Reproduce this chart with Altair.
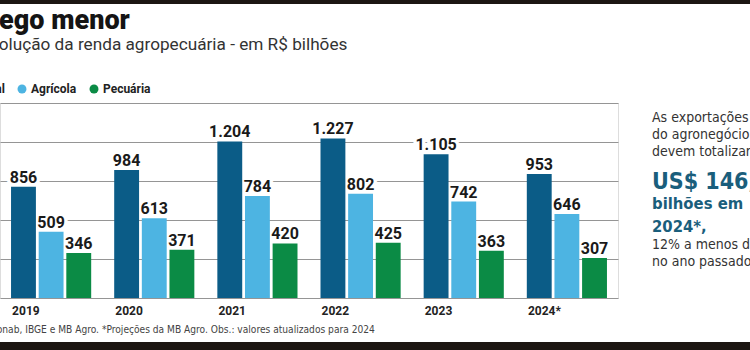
import altair as alt
import pandas as pd

anos = ["2019", "2020", "2021", "2022", "2023", "2024*"]
series = ["Total", "Agrícola", "Pecuária"]
total = [856, 984, 1204, 1227, 1105, 953]
agricola = [509, 613, 784, 802, 742, 646]
pecuaria = [346, 371, 420, 425, 363, 307]
cores = ["#0b5c87", "#4db4e2", "#0b8b45"]

titulo = "Fôlego menor"
subtitulo = "Evolução da renda agropecuária - em R$ bilhões"
fonte = "Fonte: Conab, IBGE e MB Agro. *Projeções da MB Agro. Obs.: valores atualizados para 2024"
lado = [
    "As exportações",
    "do agronegócio",
    "devem totalizar",
    "US$ 146,8",
    "bilhões em",
    "2024*,",
    "12% a menos do que",
    "no ano passado",
]

COND = "DejaVu Sans Condensed, Roboto, sans-serif"

rows = []
for s, vals in zip(series, [total, agricola, pecuaria]):
    for a, v in zip(anos, vals):
        rows.append({"ano": a, "serie": s, "valor": v,
                     "rotulo": f"{v:,}".replace(",", ".")})
df = pd.DataFrame(rows)

X = alt.X("ano:N", sort=anos, title=None,
          scale=alt.Scale(paddingInner=0.223, paddingOuter=0.107),
          axis=alt.Axis(labelAlign="left", labelAngle=0, labelOffset=-39,
                        labelFont="Roboto", labelFontWeight="bold", labelFontSize=12,
                        labelColor="#222", labelPadding=7, domain=False, ticks=False,
                        grid=False))
XO = alt.XOffset("serie:N", sort=series, scale=alt.Scale(paddingInner=0.1))
Y = alt.Y("valor:Q", title=None,
          scale=alt.Scale(domain=[0, 1500], nice=False),
          axis=alt.Axis(values=[0, 300, 600, 900, 1200, 1500], labels=False,
                        ticks=False, domain=False, grid=True, gridColor="#959595",
                        gridWidth=1))

base = alt.Chart(df)

halo = base.mark_text(baseline="alphabetic", dy=-4, font="Roboto", fontWeight="bold",
                      fontSize=16, color="white", stroke="white", strokeWidth=7,
                      strokeJoin="round").encode(x=X, xOffset=XO, y=Y, text="rotulo:N")

bars = base.mark_bar().encode(
    x=X, xOffset=XO, y=Y,
    color=alt.Color("serie:N", sort=series,
                    scale=alt.Scale(domain=series, range=cores),
                    legend=alt.Legend(orient="none", legendX=-37, legendY=-20,
                                      direction="horizontal", title=None,
                                      symbolType="circle", symbolSize=80,
                                      symbolStrokeWidth=0, labelFont="Roboto",
                                      labelFontWeight="bold", labelFontSize=12,
                                      labelColor="#222", columnPadding=11,
                                      labelOffset=3, padding=0)),
)

labels = base.mark_text(baseline="alphabetic", dy=-4, font="Roboto", fontWeight="bold",
                        fontSize=16, color="#1a1a1a").encode(
    x=X, xOffset=XO, y=Y, text="rotulo:N")


def txt(t, x, y, **kw):
    return alt.Chart(pd.DataFrame({"t": [t]})).mark_text(
        align="left", baseline="alphabetic", **kw).encode(
        text="t:N", x=alt.value(x), y=alt.value(y))


top0 = 103
ann = [
    txt(titulo, -38, 29 - top0, font="Roboto", fontWeight=900, fontSize=27, color="#141414"),
    txt(subtitulo, -19, 50 - top0, font="Roboto", fontSize=17.2, color="#333333"),
    txt(fonte, -41, 333 - top0, font=COND, fontSize=10.15, color="#444444"),
]
sizes = [
    (122, 14, "normal", "#333333"),
    (139, 14, "normal", "#333333"),
    (156, 14, "normal", "#333333"),
    (189, 23, "bold", "#1a5e7c"),
    (209, 16.5, "bold", "#1a5e7c"),
    (232, 16.5, "bold", "#1a5e7c"),
    (249, 14, "normal", "#333333"),
    (266, 14, "normal", "#333333"),
]
for line, (yy, fs, fw, col) in zip(lado, sizes):
    ann.append(txt(line, 652, yy - top0, font=COND, fontSize=fs,
                   fontWeight=fw, color=col))

faixas = [
    alt.Chart(pd.DataFrame({"k": [0]})).mark_rect(color="#1c1612").encode(
        x=alt.value(-5), x2=alt.value(760), y=alt.value(-top0 - 2), y2=alt.value(4 - top0)),
    alt.Chart(pd.DataFrame({"k": [0]})).mark_rect(color="#1c1612").encode(
        x=alt.value(-5), x2=alt.value(760), y=alt.value(342 - top0), y2=alt.value(352 - top0)),
]

chart = alt.layer(halo, bars, labels, *ann, *faixas).properties(
    width=618, height=195,
    autosize=alt.AutoSizeParams(type="none"),
    padding={"left": 0, "top": 103, "right": 132, "bottom": 52},
).configure_view(stroke=None).configure(background="white")

chart.save("out.html", embed_options={"renderer": "svg", "actions": False})
